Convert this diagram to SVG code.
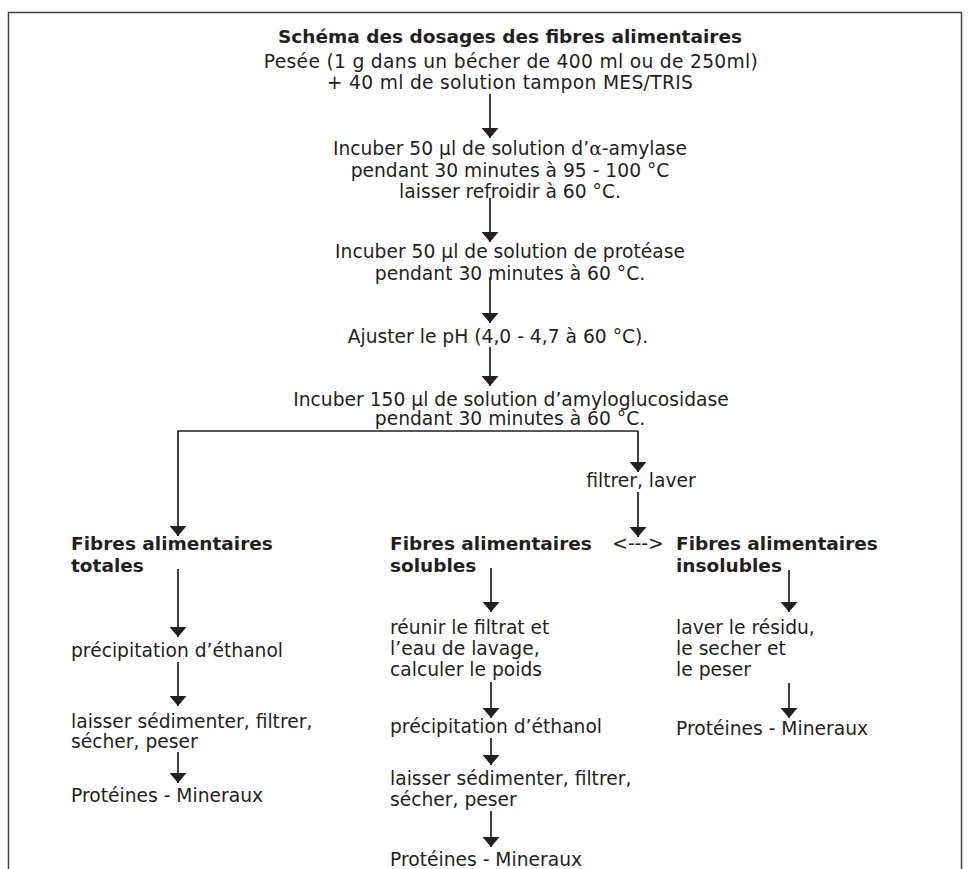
<svg xmlns="http://www.w3.org/2000/svg" width="969" height="869" viewBox="0 0 969 869">
<defs>
<marker id="ah" viewBox="0 0 10 17" refX="10" refY="8.5" markerWidth="10" markerHeight="17" markerUnits="userSpaceOnUse" orient="auto">
<path d="M0,0 L10,8.5 L0,17 z" fill="#231f20"/>
</marker>
<style>
text{font-family:"DejaVu Sans","Verdana",sans-serif;font-size:18.7px;fill:#231f20}
.b{font-weight:bold;font-size:18.5px}
.c{text-anchor:middle}
.big{letter-spacing:0.3px}
.ln{fill:none;stroke:#231f20;stroke-width:1.7}
.ar{marker-end:url(#ah)}
.bd{fill:none;stroke:#444;stroke-width:1.5}
.g{font-family:"DejaVu Serif",serif}
</style>
</defs>
<rect width="969" height="869" fill="#fff"/>
<path class="bd" d="M8.5,869 V12.5 H961.5 V869"/>
<g id="title"><text class="b c" x="510" y="43">Schéma des dosages des fibres alimentaires</text></g>
<g id="n1"><text class="c big" x="511" y="68">Pesée (1 g dans un bécher de 400 ml ou de 250ml)</text><text class="c big" x="510" y="89">+ 40 ml de solution tampon MES/TRIS</text></g>
<g id="n2"><text class="c" x="510" y="155">Incuber 50 µl de solution d’<tspan class="g">α</tspan>-amylase</text><text class="c" x="510" y="177">pendant 30 minutes à 95 - 100 °C</text><text class="c" x="510" y="198">laisser refroidir à 60 °C.</text></g>
<g id="n3"><text class="c" x="510" y="258">Incuber 50 µl de solution de protéase</text><text class="c" x="510" y="280">pendant 30 minutes à 60 °C.</text></g>
<g id="n4"><text class="c" x="498" y="343">Ajuster le pH (4,0 - 4,7 à 60 °C).</text></g>
<g id="n5"><text class="c" x="511" y="406">Incuber 150 µl de solution d’amyloglucosidase</text><text class="c" x="510" y="425">pendant 30 minutes à 60 °C.</text></g>
<g id="n6"><text class="c" x="641" y="487">filtrer, laver</text></g>
<g id="n7"><text class="c" x="638" y="550">&lt;---&gt;</text></g>
<g id="tot"><text class="b" x="71" y="550">Fibres alimentaires</text><text class="b" x="71" y="572">totales</text></g>
<g id="sol"><text class="b" x="390" y="550">Fibres alimentaires</text><text class="b" x="390" y="572">solubles</text></g>
<g id="ins"><text class="b" x="676" y="550">Fibres alimentaires</text><text class="b" x="676" y="572">insolubles</text></g>
<g id="t1"><text x="71" y="657">précipitation d’éthanol</text></g>
<g id="t2"><text x="71" y="728">laisser sédimenter, filtrer,</text><text x="71" y="748">sécher, peser</text></g>
<g id="t3"><text x="71" y="802">Protéines - Mineraux</text></g>
<g id="s1"><text x="390" y="634">réunir le filtrat et</text><text x="390" y="655">l’eau de lavage,</text><text x="390" y="676">calculer le poids</text></g>
<g id="s2"><text x="390" y="733">précipitation d’éthanol</text></g>
<g id="s3"><text x="390" y="785">laisser sédimenter, filtrer,</text><text x="390" y="806">sécher, peser</text></g>
<g id="s4"><text x="390" y="866">Protéines - Mineraux</text></g>
<g id="i1"><text x="676" y="634">laver le résidu,</text><text x="676" y="655">le secher et</text><text x="676" y="676">le peser</text></g>
<g id="i2"><text x="676" y="735">Protéines - Mineraux</text></g>
<g id="connectors">
<path class="ln ar" d="M490,94 V138"/>
<path class="ln ar" d="M490,198 V242"/>
<path class="ln ar" d="M490,277 V323"/>
<path class="ln ar" d="M490,347 V386"/>
<path class="ln ar" d="M638,431 H178 V536"/>
<path class="ln ar" d="M638,431 V472"/>
<path class="ln ar" d="M638,492 V537"/>
<path class="ln ar" d="M178,569 V637"/>
<path class="ln ar" d="M178,662 V706"/>
<path class="ln ar" d="M178,752 V783"/>
<path class="ln ar" d="M491,568 V612"/>
<path class="ln ar" d="M491,682 V718"/>
<path class="ln ar" d="M491,738 V765"/>
<path class="ln ar" d="M491,811 V847"/>
<path class="ln ar" d="M789,570 V612"/>
<path class="ln ar" d="M789,683 V718"/>
</g>
</svg>
